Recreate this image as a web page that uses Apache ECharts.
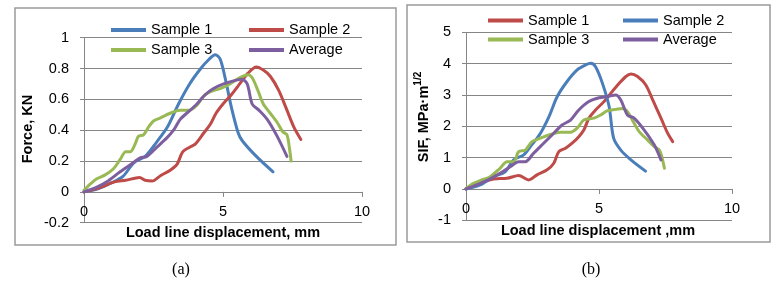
<!DOCTYPE html>
<html><head><meta charset="utf-8">
<script src="https://cdn.jsdelivr.net/npm/echarts@6/dist/echarts.min.js"></script>
<style>html,body{margin:0;padding:0;background:#fff}#c{width:774px;height:286px}</style>
</head><body><div id="c"></div>
<script>
// ---- Tick values ----
var xTicks = [0, 5, 10];
var forceTicks = [-0.2, 0, 0.2, 0.4, 0.6, 0.8, 1];
var sifTicks = [-1, 0, 1, 2, 3, 4, 5];
var legendNames = ['Sample 1', 'Sample 2', 'Sample 3', 'Average'];

// ---- (a) Force vs displacement ----
var fS1x = [0,0.5,1.0,1.4,1.8,2.2,2.6,3.0,3.4,3.8,4.2,4.5,4.72,4.9,5.1,5.3,5.55,5.7,6.2,6.8];
var fS1y = [0,0.02,0.06,0.1,0.19,0.23,0.32,0.42,0.57,0.70,0.80,0.86,0.89,0.86,0.72,0.55,0.38,0.33,0.23,0.13];
var fS2x = [0,0.6,1.1,1.5,2.0,2.2,2.45,2.75,3.1,3.35,3.55,3.8,4.0,4.3,4.55,4.75,5.0,5.3,5.6,5.9,6.2,6.45,6.7,7.0,7.3,7.55,7.8];
var fS2y = [0,0.03,0.065,0.075,0.093,0.075,0.07,0.105,0.14,0.18,0.26,0.29,0.31,0.38,0.44,0.51,0.57,0.63,0.70,0.77,0.81,0.79,0.75,0.66,0.53,0.42,0.34];
var fS3x = [0,0.22,0.46,0.76,1.06,1.3,1.5,1.66,1.84,1.96,2.14,2.32,2.5,2.75,3.1,3.45,3.8,4.05,4.3,4.55,4.9,5.25,5.6,5.9,6.05,6.25,6.45,6.7,6.95,7.15,7.3,7.4,7.45];
var fS3y = [0.01,0.05,0.085,0.11,0.15,0.21,0.26,0.26,0.31,0.36,0.37,0.42,0.46,0.48,0.51,0.53,0.53,0.56,0.62,0.65,0.67,0.70,0.74,0.76,0.74,0.66,0.57,0.51,0.45,0.39,0.37,0.27,0.2];
var fAvx = [0,0.46,0.82,1.3,1.78,2.02,2.26,2.62,2.98,3.22,3.46,3.82,4.06,4.36,4.66,5.02,5.38,5.68,5.87,6.05,6.29,6.59,6.95,7.3];
var fAvy = [0,0.03,0.065,0.13,0.19,0.22,0.23,0.29,0.35,0.40,0.47,0.53,0.57,0.63,0.67,0.70,0.72,0.73,0.70,0.57,0.53,0.47,0.36,0.23];

// ---- (b) SIF vs displacement ----
var kS1x = [0,0.53,1.03,1.54,1.98,2.36,2.67,3.05,3.3,3.49,3.74,3.99,4.24,4.43,4.62,4.87,5.19,5.44,5.76,6.01,6.2,6.45,6.76,7.02,7.33,7.58,7.77];
var kS1y = [0,0.18,0.32,0.34,0.43,0.29,0.45,0.61,0.82,1.19,1.30,1.46,1.67,1.88,2.26,2.52,2.79,3.05,3.37,3.59,3.67,3.59,3.32,2.84,2.26,1.78,1.51];
var kS2x = [0,0.53,1.03,1.47,1.79,2.17,2.42,2.8,3.12,3.43,3.8,4.18,4.5,4.69,4.87,5.13,5.38,5.55,5.82,6.2,6.75];
var kS2y = [0,0.13,0.39,0.55,0.93,1.09,1.35,1.78,2.31,2.95,3.43,3.80,3.96,4.01,3.90,3.37,2.63,1.62,1.24,0.93,0.57];
var kS3x = [0,0.28,0.59,0.91,1.28,1.54,1.79,1.98,2.23,2.48,2.8,3.17,3.55,3.93,4.18,4.43,4.81,5.06,5.32,5.63,5.88,6.07,6.32,6.51,6.83,7.08,7.27,7.36,7.46];
var kS3y = [0.02,0.18,0.29,0.39,0.66,0.87,0.87,1.19,1.24,1.51,1.62,1.74,1.81,1.81,1.94,2.20,2.26,2.36,2.50,2.54,2.57,2.47,2.10,1.83,1.56,1.35,1.24,1.03,0.66];
var kAvx = [0,0.4,0.84,1.28,1.66,1.98,2.23,2.54,2.92,3.3,3.61,3.93,4.24,4.62,5.0,5.32,5.63,5.82,6.07,6.32,6.7,7.08,7.33];
var kAvy = [0,0.13,0.29,0.5,0.71,0.87,0.87,1.14,1.46,1.78,2.04,2.2,2.52,2.79,2.91,2.95,3.0,2.84,2.36,2.26,1.88,1.4,0.93];

var BLUE = '#4A7EBB', RED = '#BE4B48', GREEN = '#98B954', PURPLE = '#7D5FA0';
var GRID = '#868686';
var FONT = '"Liberation Sans", Arial, sans-serif';

function pairs(xs, ys) { return xs.map(function (x, i) { return [x, ys[i]]; }); }
function ser(name, idx, xs, ys, color) {
  return { name: name, type: 'line', xAxisIndex: idx, yAxisIndex: idx, data: pairs(xs, ys),
    smooth: 0.3, showSymbol: false, symbol: 'none', color: color,
    lineStyle: { width: 3, color: color, cap: 'round', join: 'round' }, animation: false };
}
// zeroShift: distance (px) from the grid bottom (axis min) up to the value 0
function xAx(idx, zeroShift) {
  return { type: 'value', gridIndex: idx, min: xTicks[0], max: xTicks[xTicks.length - 1], interval: xTicks[1] - xTicks[0],
    position: 'bottom', offset: -zeroShift,
    axisLine: { show: true, onZero: false, lineStyle: { color: GRID, width: 1 } },
    axisTick: { show: true, inside: false, length: 5, lineStyle: { color: GRID } },
    axisLabel: { margin: 13, fontSize: 14.5, color: '#000', fontFamily: FONT },
    splitLine: { show: false } };
}
function yAx(idx, ticks) {
  return { type: 'value', gridIndex: idx, min: ticks[0], max: ticks[ticks.length - 1], interval: +(ticks[1] - ticks[0]).toFixed(3),
    axisLine: { show: true, lineStyle: { color: GRID, width: 1 } },
    axisTick: { show: true, length: 4, lineStyle: { color: GRID } },
    axisLabel: { margin: 15, fontSize: 14.5, color: '#000', fontFamily: FONT,
      formatter: function (v) { return String(+v.toFixed(2)); } },
    splitLine: { show: true, lineStyle: { color: GRID, width: 1 } } };
}
function legend(suffix, left, top, textW, lh) {
  return { left: left, top: top, width: 2 * (35 + 5 + textW) + 20, padding: 0, orient: 'horizontal',
    itemGap: 4, icon: 'rect', itemWidth: 35, itemHeight: 4,
    data: legendNames.map(function (n) { return n + suffix; }),
    formatter: function (n) { return n.replace(suffix, ''); },
    textStyle: { fontSize: 14.5, color: '#000', fontFamily: FONT, width: textW, lineHeight: lh } };
}

var chart = echarts.init(document.getElementById('c'), null, { renderer: 'canvas' });
chart.setOption({
  animation: false,
  backgroundColor: '#fff',
  grid: [
    { left: 84, top: 37.7, width: 278, height: 185 },
    { left: 466, top: 32.3, width: 266, height: 188 }
  ],
  xAxis: [xAx(0, 185 / 6), xAx(1, 188 / 6)],
  yAxis: [yAx(0, forceTicks), yAx(1, sifTicks)],
  legend: [legend(' (a)', 111, 22, 94, 16), legend(' (b)', 488, 13, 91, 15)],
  series: [
    ser('Sample 1 (a)', 0, fS1x, fS1y, BLUE),
    ser('Sample 2 (a)', 0, fS2x, fS2y, RED),
    ser('Sample 3 (a)', 0, fS3x, fS3y, GREEN),
    ser('Average (a)', 0, fAvx, fAvy, PURPLE),
    ser('Sample 1 (b)', 1, kS1x, kS1y, RED),
    ser('Sample 2 (b)', 1, kS2x, kS2y, BLUE),
    ser('Sample 3 (b)', 1, kS3x, kS3y, GREEN),
    ser('Average (b)', 1, kAvx, kAvy, PURPLE)
  ],
  graphic: [
    { type: 'rect', shape: { x: 15, y: 8, width: 381, height: 237 }, style: { fill: 'none', stroke: '#9a9a9a', lineWidth: 1.5 }, z: -1 },
    { type: 'rect', shape: { x: 407, y: 5, width: 363, height: 237 }, style: { fill: 'none', stroke: '#9a9a9a', lineWidth: 1.5 }, z: -1 },
    { type: 'text', x: 223, y: 233, style: { text: 'Load line displacement, mm', font: 'bold 14.5px ' + FONT, fill: '#000', align: 'center', verticalAlign: 'middle' } },
    { type: 'text', x: 598, y: 231, style: { text: 'Load line displacement ,mm', font: 'bold 14.5px ' + FONT, fill: '#000', align: 'center', verticalAlign: 'middle' } },
    { type: 'text', x: 28, y: 129, rotation: Math.PI / 2, style: { text: 'Force, KN', font: 'bold 14.5px ' + FONT, fill: '#000', align: 'center', verticalAlign: 'middle' } },
    { type: 'text', x: 422, y: 117, rotation: Math.PI / 2,
      style: { text: '{a|SIF, MPa·m}{b|1/2}', align: 'center', verticalAlign: 'middle', fill: '#000',
        rich: { a: { fontSize: 14.5, fontWeight: 'bold', fontFamily: FONT, lineHeight: 18, verticalAlign: 'bottom' },
                b: { fontSize: 10, fontWeight: 'bold', fontFamily: FONT, lineHeight: 18, verticalAlign: 'top' } } } },
    { type: 'text', x: 181, y: 270, style: { text: '(a)', font: '16px "Liberation Serif", "Times New Roman", serif', fill: '#000', align: 'center', verticalAlign: 'middle' } },
    { type: 'text', x: 591, y: 270, style: { text: '(b)', font: '16px "Liberation Serif", "Times New Roman", serif', fill: '#000', align: 'center', verticalAlign: 'middle' } }
  ]
});
</script></body></html>
